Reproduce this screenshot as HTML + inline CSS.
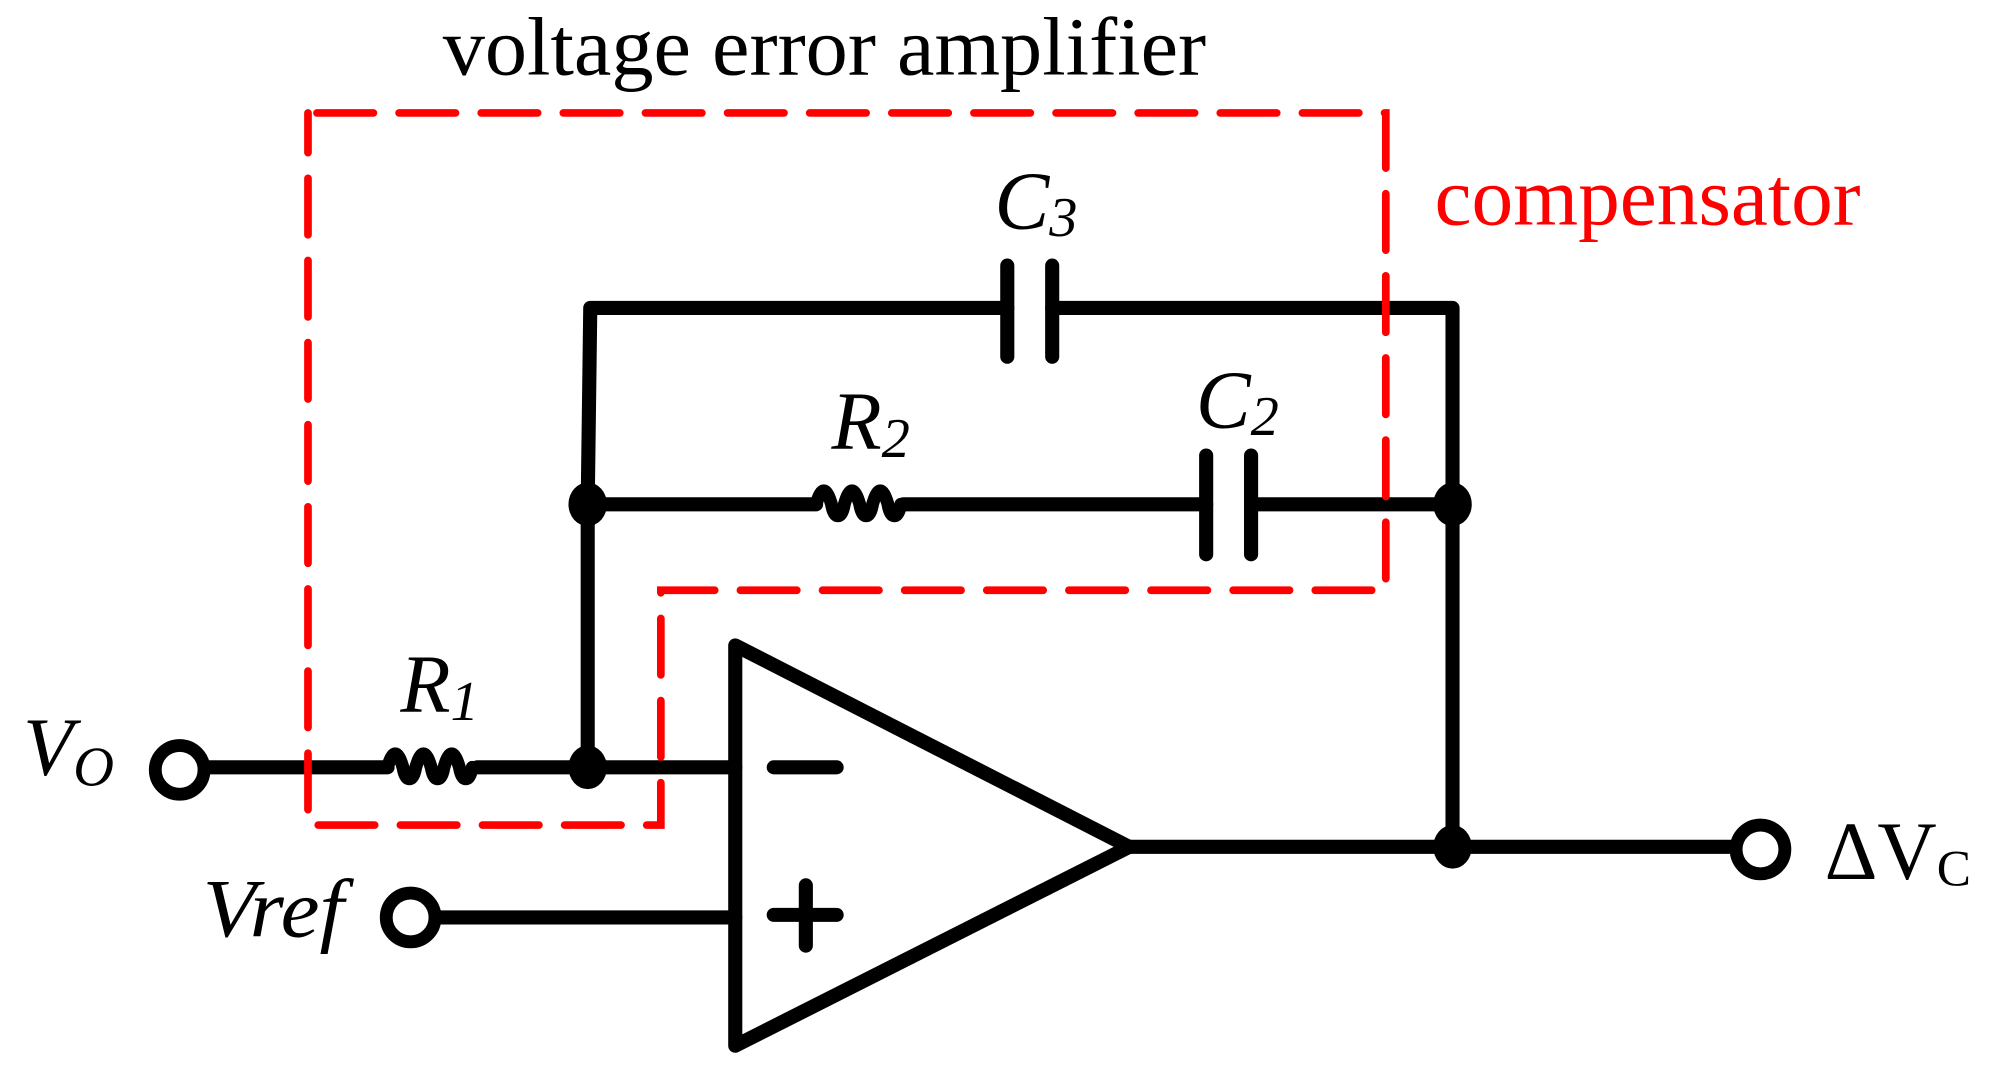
<!DOCTYPE html>
<html><head><meta charset="utf-8"><style>
html,body{margin:0;padding:0;background:#fff;}
svg{display:block;}
text{font-family:"Liberation Serif",serif;}
</style></head><body>
<svg width="2012" height="1065" viewBox="0 0 1568 830" xmlns="http://www.w3.org/2000/svg">
<g fill="none" stroke="#000" stroke-width="11" stroke-linecap="round" stroke-linejoin="round">
<path d="M160 598 H302 M372 598 H573"/>
<path d="M302 598 c4 -14 8 -14 12 0 c2 12 8 12 10 0 c4 -14 8 -14 12 0 c2 12 8 12 10 0 c4 -14 8 -14 12 0 c2 12 8 12 10 0" stroke-width="10"/>
<path d="M458 598 V393 L460 240 H785 M820 240 H1132 V660"/>
<path d="M785 207 V278 M820 207 V278"/>
<path d="M458 393 H636 M704 393 H940 M975 393 H1132"/>
<path d="M636 393 c4 -14 8 -14 12 0 c2 12 8 12 10 0 c4 -14 8 -14 12 0 c2 12 8 12 10 0 c4 -14 8 -14 12 0 c2 12 8 12 10 0" stroke-width="10"/>
<path d="M940 355 V432 M975 355 V432"/>
<path d="M573 503 V815 L880 660 Z" stroke-width="11"/>
<path d="M603 598 H652 M603 713 H652 M628 690 V737"/>
<path d="M340 715 H573"/>
<path d="M880 660 H1352"/>
<circle cx="140" cy="600" r="19" stroke-width="10"/>
<circle cx="320" cy="715" r="19" stroke-width="10"/>
<circle cx="1372" cy="662" r="19" stroke-width="10"/>
</g>
<g fill="#000">
<ellipse cx="458" cy="598" rx="15" ry="17"/>
<ellipse cx="458" cy="393" rx="15" ry="17"/>
<ellipse cx="1132" cy="393" rx="15" ry="17"/>
<ellipse cx="1132" cy="660" rx="15" ry="17"/>
</g>
<path d="M247 88 H1080 V460 H515 V643 H240 V88" fill="none" stroke="#f00" stroke-width="6" stroke-dasharray="44 20" stroke-linecap="round"/>
<text x="345" y="58" font-size="64" textLength="595" lengthAdjust="spacingAndGlyphs">voltage error amplifier</text>
<text x="1118" y="175" font-size="64" fill="#f00" textLength="332" lengthAdjust="spacingAndGlyphs">compensator</text>
<g font-style="italic" font-size="64">
<text x="775" y="178">C<tspan font-size="44" dy="6">3</tspan></text>
<text x="648" y="350">R<tspan font-size="44" dy="6">2</tspan></text>
<text x="932" y="333">C<tspan font-size="44" dy="6">2</tspan></text>
<text x="312" y="555">R<tspan font-size="44" dy="6">1</tspan></text>
<text x="18" y="604">V<tspan font-size="44" dy="8">O</tspan></text>
<text x="158" y="730" textLength="110" lengthAdjust="spacingAndGlyphs">Vref</text>
</g>
<text x="1422" y="685" font-size="64">ΔV<tspan font-size="40" dy="5">C</tspan></text>
</svg>
</body></html>
